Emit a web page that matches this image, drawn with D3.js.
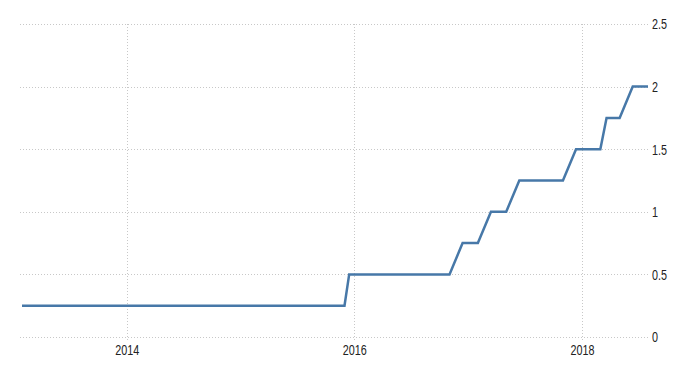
<!DOCTYPE html>
<html>
<head>
<meta charset="utf-8">
<script src="https://cdn.jsdelivr.net/npm/d3@7"></script>
<style>
  body { margin: 0; background: #fff; }
  text { font-family: "Liberation Sans", Arial, sans-serif; fill: #222; }
</style>
</head>
<body>
<svg id="chart"></svg>
<script>
// data: rate path, bend points only
const dates = ["2013-01-30", "2015-12-01", "2015-12-16", "2016-11-02", "2016-12-14",
  "2017-02-01", "2017-03-15", "2017-05-03", "2017-06-14", "2017-11-01", "2017-12-13",
  "2018-03-01", "2018-03-21", "2018-05-02", "2018-06-13", "2018-08-01"]
const rates = [0.25, 0.25, 0.5, 0.5, 0.75, 0.75, 1, 1, 1.25, 1.25, 1.5, 1.5, 1.75, 1.75, 2, 2]
const yTicks = [0, 0.5, 1, 1.5, 2, 2.5]
const xTicks = ["2014-01-01", "2016-01-01", "2018-01-01"]

const parse = d3.timeParse("%Y-%m-%d")
const data = dates.map((d, i) => ({ date: parse(d), value: rates[i] }))

const width = 700, height = 375
const svg = d3.select("#chart").attr("width", width).attr("height", height)

const x = d3.scaleTime()
  .domain([parse("2013-01-30"), parse("2018-08-01")])
  .range([22, 648])
const y = d3.scaleLinear().domain([0, 2.5]).range([337, 24])

// grid
svg.append("g").selectAll("line")
  .data(yTicks)
  .enter().append("line")
  .attr("x1", 20).attr("x2", 648)
  .attr("y1", d => Math.round(y(d)) + 0.5).attr("y2", d => Math.round(y(d)) + 0.5)
  .attr("stroke", "#c8c8c8").attr("stroke-dasharray", "1,2")

svg.append("g").selectAll("line")
  .data(xTicks.map(parse))
  .enter().append("line")
  .attr("x1", d => Math.round(x(d)) + 0.5).attr("x2", d => Math.round(x(d)) + 0.5)
  .attr("y1", 24).attr("y2", 342)
  .attr("stroke", "#c8c8c8").attr("stroke-dasharray", "1,2")

// axis labels (narrow look)
const yAxis = svg.append("g")
  .attr("transform", "translate(652,0)")
  .call(d3.axisRight(y).tickValues(yTicks).tickSize(0).tickPadding(0).tickFormat(d3.format("")))
yAxis.select(".domain").remove()
yAxis.selectAll("text").attr("font-size", 15).attr("fill", "#222")
  .attr("transform", "scale(0.72,1)")

const xAxis = svg.append("g")
  .attr("transform", "translate(0,343)")
  .call(d3.axisBottom(x).tickValues(xTicks.map(parse)).tickSize(0).tickPadding(1).tickFormat(d3.timeFormat("%Y")))
xAxis.select(".domain").remove()
xAxis.selectAll("text").attr("font-size", 15).attr("fill", "#222")
  .attr("transform", "scale(0.72,1)")

// line
svg.append("path")
  .datum(data)
  .attr("fill", "none")
  .attr("stroke", "#4778a8")
  .attr("stroke-width", 2.5)
  .attr("d", d3.line().x(d => x(d.date)).y(d => y(d.value)))
</script>
</body>
</html>
